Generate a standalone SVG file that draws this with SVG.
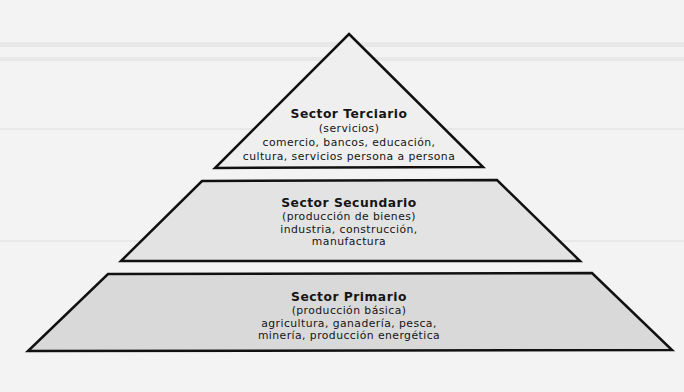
<svg xmlns="http://www.w3.org/2000/svg" width="684" height="392" viewBox="0 0 684 392">
<style>
.bg{fill:#f3f3f3}
.band{fill:#d4d4d4;opacity:0.35}
.shape{stroke:#111;stroke-width:2.5;stroke-linejoin:miter}
.t{font-family:"DejaVu Sans","Verdana",sans-serif;font-size:10.8px;letter-spacing:0.45px;fill:#151515;text-anchor:middle}
.h{font-weight:bold;font-size:12.3px;letter-spacing:0.5px}
</style>
<rect class="bg" x="0" y="0" width="684" height="392"/>
<g id="background-streaks">
<rect class="band" x="0" y="42" width="684" height="5"/>
<rect class="band" x="0" y="57" width="684" height="4"/>
<rect class="band" x="0" y="128" width="684" height="2" opacity="0.2"/>
<rect class="band" x="0" y="240" width="684" height="2" opacity="0.2"/>
</g>
<g id="sector-terciario">
<polygon class="shape" points="349,34 483,167 215,168" fill="#efefef"/>
<text class="t h" x="349" y="118">Sector Terciario</text>
<text class="t" x="349" y="132">(servicios)</text>
<text class="t" x="349" y="146">comercio, bancos, educación,</text>
<text class="t" x="349" y="160">cultura, servicios persona a persona</text>
</g>
<g id="sector-secundario">
<polygon class="shape" points="202,181 497,180 580,261 121,261" fill="#e3e3e3"/>
<text class="t h" x="349" y="207">Sector Secundario</text>
<text class="t" x="349" y="220">(producción de bienes)</text>
<text class="t" x="349" y="232.5">industria, construcción,</text>
<text class="t" x="349" y="245">manufactura</text>
</g>
<g id="sector-primario">
<polygon class="shape" points="108,274 592,273 672,350 28,351" fill="#d9d9d9"/>
<text class="t h" x="349" y="301">Sector Primario</text>
<text class="t" x="349" y="314">(producción básica)</text>
<text class="t" x="349" y="326.5">agricultura, ganadería, pesca,</text>
<text class="t" x="349" y="339">minería, producción energética</text>
</g>
</svg>
